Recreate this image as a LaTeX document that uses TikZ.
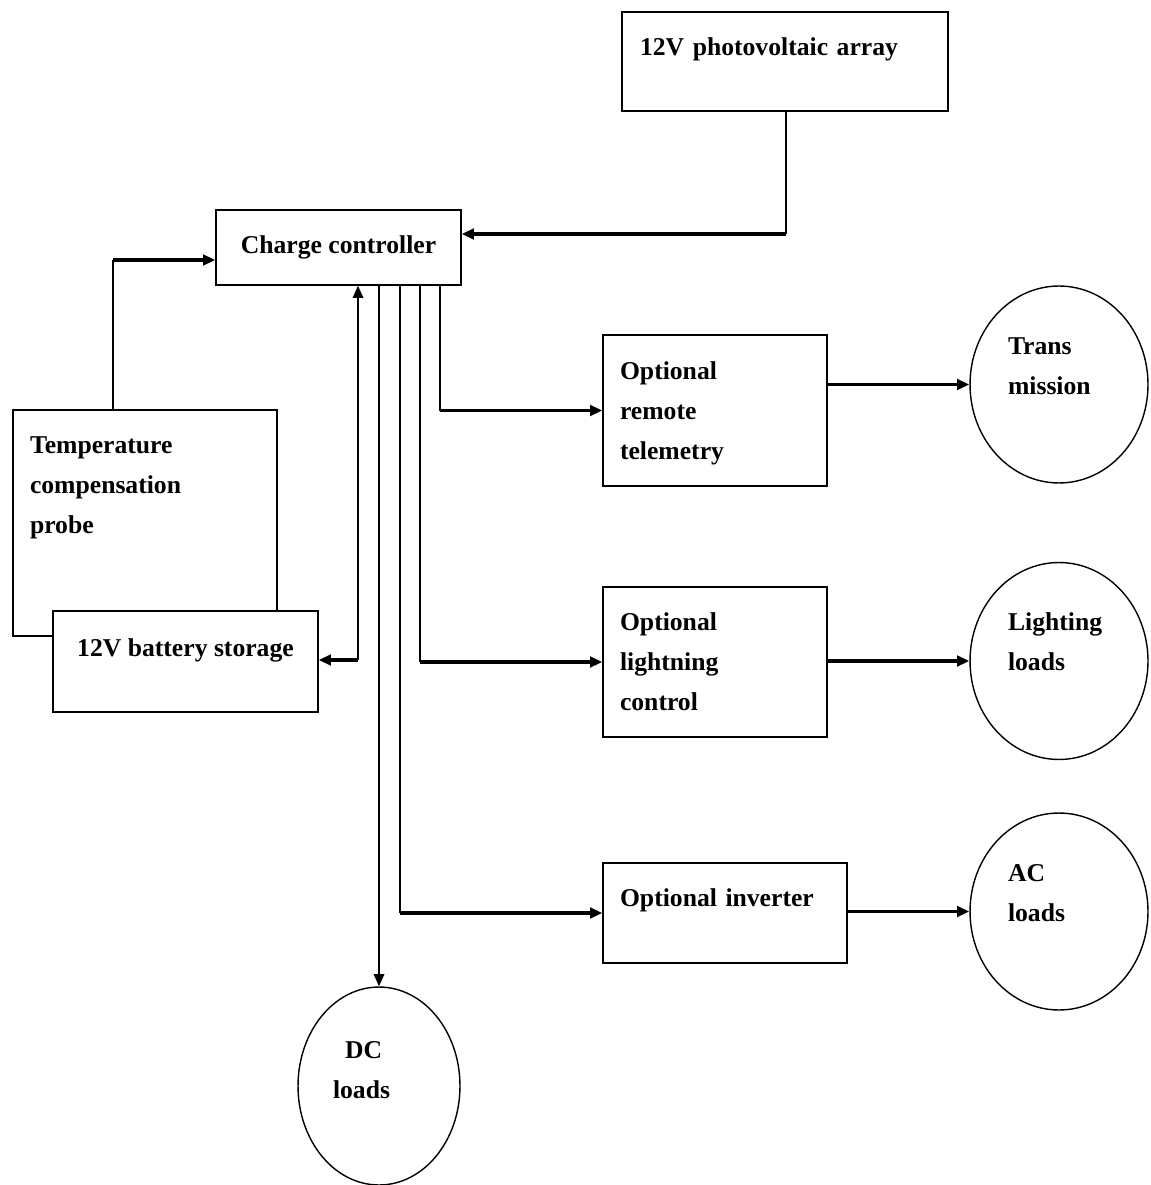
\documentclass[tikz,border=0pt]{standalone}
\usepackage{fontspec}
\setmainfont{Liberation Serif}
\usetikzlibrary{arrows.meta,shapes.geometric}

\tikzset{
    every node/.style={font=\bfseries\fontsize{14.6pt}{22.7pt}\selectfont, text height=10pt},
    block/.style={draw, rectangle, line width=0.8pt, fill=white, inner sep=0pt},
    load/.style={draw, ellipse, line width=0.8pt, inner sep=0pt, align=left,
        minimum width=3.56cm, minimum height=3.94cm},
    wire/.style={line width=1pt},
    feed/.style={line width=1.8pt},
    >={Triangle[length=7pt,width=6pt]}
}

\begin{document}
\begin{tikzpicture}[x=0.02cm, y=-0.02cm]
    \useasboundingbox (0,0) rectangle (1150,1185);
    % Source and controller
    \node[block, minimum width=6.52cm, minimum height=1.98cm, text width=5.8cm,
        align=left, text depth=16.8pt] (pv) at (785,61.5) {12V photovoltaic array};
    \node[block, minimum width=4.9cm, minimum height=1.5cm, text depth=3.2pt]
        (cc) at (338.5,247.5) {Charge controller};
    % Probe and battery (battery drawn over the probe)
    \node[block, minimum width=5.28cm, minimum height=4.52cm, text width=4.6cm,
        align=left, text depth=88.8pt] (probe) at (145,523)
        {Temperature\\compensation\\probe};
    \node[block, minimum width=5.3cm, minimum height=2.02cm, text depth=15.7pt]
        (bat) at (185.5,661.5) {12V battery storage};
    % Optional units
    \node[block, minimum width=4.48cm, minimum height=3.02cm, text width=3.8cm,
        align=left, text depth=45.2pt] (tel) at (715,410.5)
        {Optional\\remote\\telemetry};
    \node[block, minimum width=4.48cm, minimum height=3cm, text width=3.8cm,
        align=left, text depth=45.7pt] (light) at (715,662)
        {Optional\\lightning\\control};
    \node[block, minimum width=4.88cm, minimum height=2cm, text width=4.2cm,
        align=left, text depth=17.4pt] (inv) at (725,913) {Optional inverter};
    % Loads
    \node[load, text width=2.04cm, text depth=44pt] (trans) at (1059,384.5)
        {Trans\\mission};
    \node[load, text width=2.04cm, text depth=44.6pt] (lload) at (1059,661)
        {Lighting\\loads};
    \node[load, text width=2.04cm, text depth=44pt] (acload) at (1059,911.5)
        {AC\\loads};
    \node[load, minimum width=3.24cm, minimum height=3.96cm, text width=1.84cm,
        text depth=41.2pt] (dcload) at (379,1086) {\hspace*{0.24cm}DC\\loads};
    % Bends of the wires
    \coordinate (probebend) at (113,260);
    \coordinate (pvbend) at (786,234);
    \coordinate (batbend) at (358,660);
    \coordinate (invtap) at (400,913);
    \coordinate (lighttap) at (420,662);
    \coordinate (teletap) at (440,410.5);
    % Inputs to the controller
    \draw[wire] (probe.north -| probebend) -- (probebend);
    \draw[feed, ->] (probebend) -- (cc.west |- probebend);
    \draw[wire] (pv.south -| pvbend) -- (pvbend);
    \draw[feed, ->] (pvbend) -- (cc.east |- pvbend);
    % Battery link, both ways
    \draw[wire, <-] (cc.south -| batbend) -- (batbend);
    \draw[feed, ->] (batbend) -- (bat.east |- batbend);
    % Outputs of the controller
    \draw[wire, ->] (cc.south -| dcload.north) -- (dcload.north);
    \draw[wire] (cc.south -| invtap) -- (invtap);
    \draw[feed, ->] (invtap) -- (inv.west);
    \draw[wire] (cc.south -| lighttap) -- (lighttap);
    \draw[feed, ->] (lighttap) -- (light.west);
    \draw[wire] (cc.south -| teletap) -- (teletap);
    \draw[feed, ->] (teletap) -- (tel.west);
    % Units to loads
    \draw[feed, line width=2pt, ->] (tel.east |- trans.west) -- (trans.west);
    \draw[feed, line width=2pt, ->] (light.east |- lload.west) -- (lload.west);
    \draw[feed, line width=2pt, ->] (inv.east |- acload.west) -- (acload.west);
\end{tikzpicture}
\end{document}
